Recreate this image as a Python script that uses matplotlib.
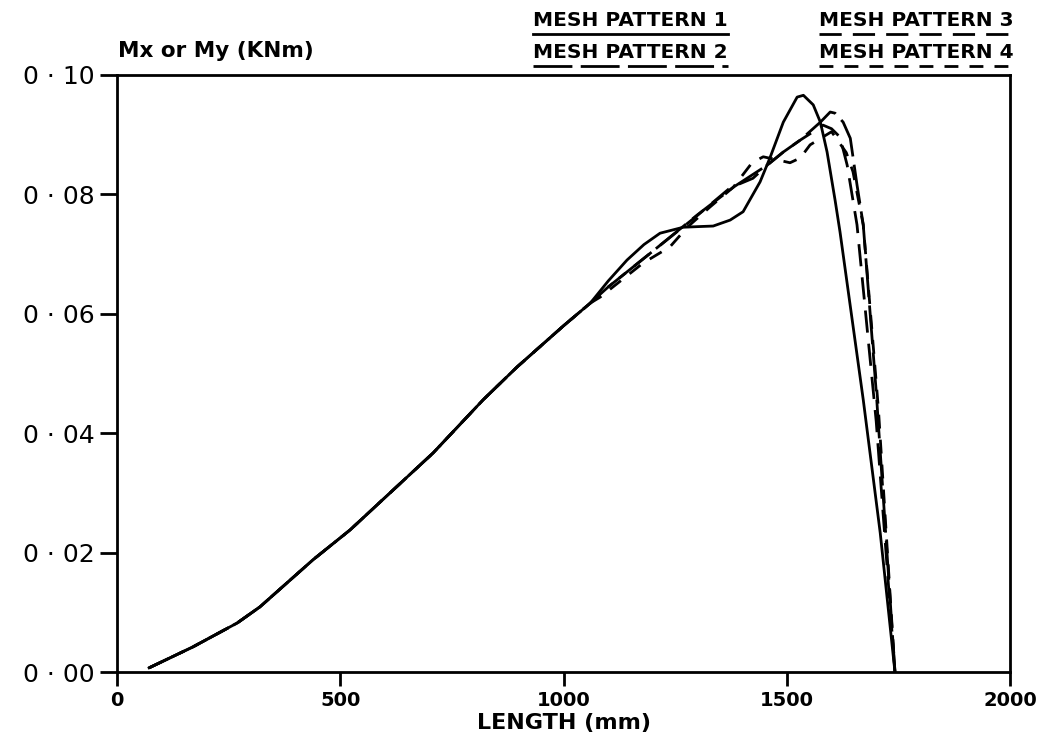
import numpy as np
import matplotlib
matplotlib.use("Agg")
import matplotlib.pyplot as plt
from matplotlib.lines import Line2D

# shared part of all four curves
base_len = [72, 170, 269, 320, 439, 522, 708, 820, 896, 1000, 1060]
base_m = [0.0007, 0.0042, 0.0082, 0.0109, 0.0188, 0.0238, 0.0367, 0.0456, 0.0511, 0.0580, 0.0618]

# mesh pattern 1 - S-shaped, highest peak
p1_len = [1100, 1142, 1180, 1216, 1268, 1300, 1335, 1373, 1402, 1440, 1462, 1492, 1523, 1537,
          1559, 1575, 1590, 1608, 1619, 1671, 1709, 1742]
p1_m = [0.0655, 0.0690, 0.0716, 0.0735, 0.0745, 0.0746, 0.0747, 0.0757, 0.0771, 0.0821, 0.0861,
        0.0921, 0.0963, 0.0966, 0.0950, 0.0921, 0.0871, 0.0790, 0.0737, 0.0456, 0.0233, 0.0]

# mesh pattern 2 - second peak near 1600 mm
p2_len = [1100, 1200, 1300, 1380, 1456, 1492, 1530, 1575, 1597, 1608, 1626, 1642, 1657, 1671,
          1700, 1742]
p2_m = [0.0645, 0.0705, 0.0766, 0.0812, 0.0849, 0.0871, 0.0891, 0.0921, 0.0938, 0.0936, 0.0921,
        0.0894, 0.0816, 0.0749, 0.0470, 0.0]

# mesh pattern 3
p3_len = [1100, 1200, 1300, 1373, 1424, 1456, 1492, 1530, 1559, 1581, 1600, 1619, 1635, 1657,
          1700, 1742]
p3_m = [0.0645, 0.0705, 0.0765, 0.0811, 0.0827, 0.0849, 0.0871, 0.0891, 0.0905, 0.0916, 0.0910,
        0.0896, 0.0849, 0.0749, 0.0420, 0.0]

# mesh pattern 4 - small wiggle around 0.086
p4_len = [1082, 1178, 1238, 1277, 1328, 1380, 1422, 1447, 1478, 1507, 1530, 1552, 1600, 1633,
          1648, 1671, 1705, 1742]
p4_m = [0.0628, 0.0685, 0.0712, 0.0745, 0.0779, 0.0812, 0.0853, 0.0863, 0.0858, 0.0853, 0.0861,
        0.0883, 0.0905, 0.0870, 0.0838, 0.0749, 0.0440, 0.0]

x_ticks = [0, 500, 1000, 1500, 2000]
y_ticks = [0.0, 0.02, 0.04, 0.06, 0.08, 0.10]
y_labels = ["0 \u00b7 00", "0 \u00b7 02", "0 \u00b7 04", "0 \u00b7 06", "0 \u00b7 08", "0 \u00b7 10"]

styles = [
    ("MESH PATTERN 1", p1_len, p1_m, "-"),
    ("MESH PATTERN 2", p2_len, p2_m, (0, (14, 3))),
    ("MESH PATTERN 3", p3_len, p3_m, (0, (8, 4))),
    ("MESH PATTERN 4", p4_len, p4_m, (0, (5, 4))),
]

plt.rcParams["font.family"] = ["DejaVu Sans"]
fig = plt.figure(figsize=(10.49, 7.47), dpi=100)
ax = fig.add_axes([0.1115, 0.1004, 0.8515, 0.7992])

for name, xs, ys, ls in styles:
    ax.plot(base_len + xs, base_m + ys, color="black", lw=2, linestyle=ls)

ax.set_xlim(0, 2000)
ax.set_ylim(0, 0.10)
ax.set_xticks(x_ticks)
ax.set_xticklabels([str(t) for t in x_ticks], fontsize=14, fontweight="bold")
ax.set_yticks(y_ticks)
ax.set_yticklabels(y_labels, fontsize=18)
ax.tick_params(direction="out", length=12, width=2, pad=4)
ax.tick_params(axis="x", length=10)
for s in ax.spines.values():
    s.set_linewidth(2)

ax.set_xlabel("LENGTH (mm)", fontsize=16, fontweight="bold", labelpad=2)
fig.text(0.1125, 0.918, "Mx or My (KNm)", fontsize=15.5, fontweight="bold", ha="left", va="bottom")

# legend: text with underline drawn in the curve's line style
legend_pos = [(0.508, 0.960), (0.508, 0.917), (0.781, 0.960), (0.781, 0.917)]
for (name, _, _, ls), (lx, ly) in zip(styles, legend_pos):
    t = fig.text(lx, ly, name, fontsize=14.5, fontweight="bold", ha="left", va="bottom")
    fig.canvas.draw()
    bb = t.get_window_extent().transformed(fig.transFigure.inverted())
    fig.add_artist(Line2D([bb.x0, bb.x1], [ly - 0.006, ly - 0.006], color="black", lw=2,
                          linestyle=ls, transform=fig.transFigure))

fig.savefig("out.png", dpi=100)
